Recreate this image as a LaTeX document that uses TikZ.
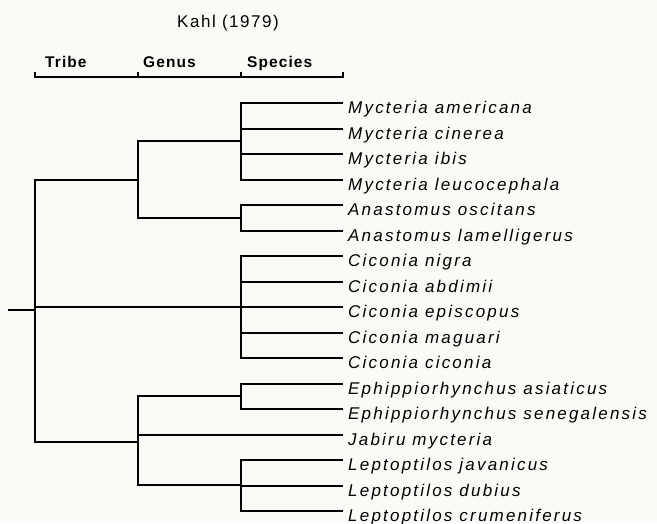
\documentclass[tikz,border=0pt]{standalone}
\usepackage{fontspec}
\setmainfont{Liberation Sans}
\newfontfamily\spfont{Liberation Sans}[LetterSpace=13]
\newfontfamily\hdfont{Liberation Sans}[LetterSpace=7]
\newfontfamily\ttlfont{Liberation Sans}[LetterSpace=9]
\definecolor{paper}{RGB}{252,250,247}
\tikzset{
  branch/.style={line width=2pt},
  species/.style={font=\spfont\itshape\fontsize{17}{19}\selectfont, anchor=base west, inner sep=0pt},
  rank/.style={font=\hdfont\bfseries\fontsize{15.5}{17}\selectfont, anchor=base west, inner sep=0pt},
}
\begin{document}
\begin{tikzpicture}[x=1pt, y=-1pt]
    \useasboundingbox[fill=paper] (0,0) rectangle (657,523);
    % heading
    \node[font=\ttlfont\fontsize{17}{19}\selectfont, anchor=base, inner sep=0pt] (title) at (228,27) {Kahl (1979)};
    \node[rank] (tribe) at (45,67) {Tribe};
    \node[rank] (genus) at (143,67) {Genus};
    \node[rank] (species) at (247,67) {Species};
    \draw[branch] (35,72) -- (35,77) -- (343,77) -- (343,72);
    \draw[branch] (138,77) -- (138,72) (241,77) -- (241,72);
    % leaves
    \foreach \i/\name in {1/Mycteria americana, 2/Mycteria cinerea, 3/Mycteria ibis,
        4/Mycteria leucocephala, 5/Anastomus oscitans, 6/Anastomus lamelligerus,
        7/Ciconia nigra, 8/Ciconia abdimii, 9/Ciconia episcopus, 10/Ciconia maguari,
        11/Ciconia ciconia, 12/Ephippiorhynchus asiaticus, 13/Ephippiorhynchus senegalensis,
        14/Jabiru mycteria, 15/Leptoptilos javanicus, 16/Leptoptilos dubius,
        17/Leptoptilos crumeniferus} {
        \coordinate (s\i) at (343, {round(103+(\i-1)*25.5)});
        \node[species] (n\i) at ([xshift=5pt, yshift=-10.5pt]s\i) {\name};
    }
    % genera
    \coordinate (gMyc) at (241,141);
    \coordinate (gAna) at (241,218);
    \coordinate (gCic) at (241,307);
    \coordinate (gEph) at (241,396);
    \coordinate (gLep) at (241,485);
    % tribes
    \coordinate (tMyc) at (138,180);
    \coordinate (tLep) at (138,442);
    \coordinate (root) at (35,310);
    \coordinate (stem) at (8,310);
    \draw[branch] (gMyc) |- (s1) (gMyc) |- (s2) (gMyc) |- (s3) (gMyc) |- (s4);
    \draw[branch] (gAna) |- (s5) (gAna) |- (s6);
    \draw[branch] (gCic) |- (s7) (gCic) |- (s8) (gCic) |- (s9) (gCic) |- (s10) (gCic) |- (s11);
    \draw[branch] (gEph) |- (s12) (gEph) |- (s13);
    \draw[branch] (gLep) |- (s15) (gLep) |- (s16) (gLep) |- (s17);
    \draw[branch] (tMyc) |- (gMyc) (tMyc) |- (gAna);
    \draw[branch] (tLep) |- (gEph) (tLep) |- (s14) (tLep) |- (gLep);
    \draw[branch] (root) |- (tMyc) (root) |- (gCic) (root) |- (tLep);
    \draw[branch] (stem) -- (root);
\end{tikzpicture}
\end{document}
